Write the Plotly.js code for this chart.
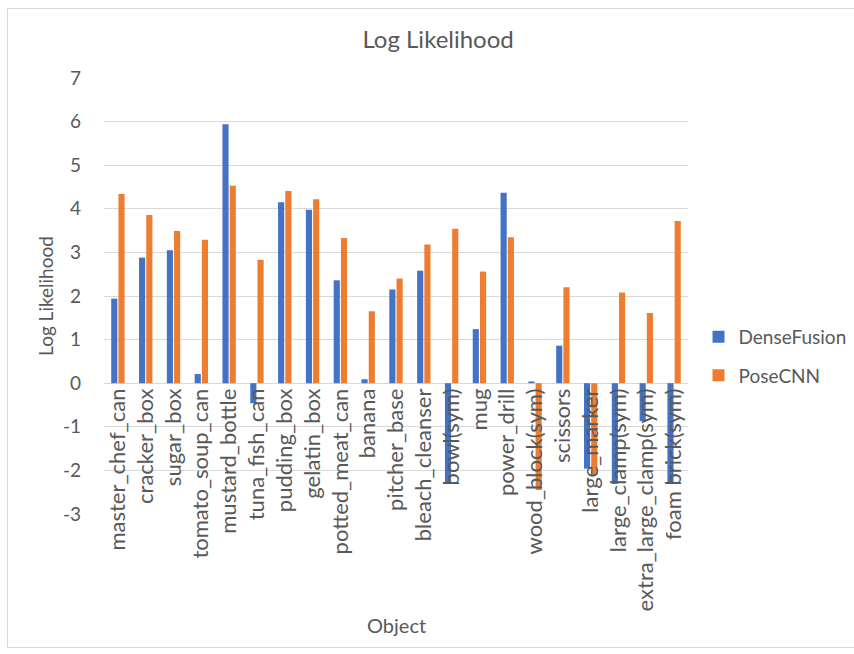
<!DOCTYPE html>
<html>
<head>
<meta charset="utf-8">
<script src="https://cdn.plot.ly/plotly-3.0.1.min.js"></script>
<style>
  html, body { margin: 0; padding: 0; background: #ffffff; }
  #frame { position: absolute; left: 7px; top: 8px; width: 860px; height: 640px; border: 1px solid #d9d9d9; box-sizing: border-box; }
  #chart { position: absolute; left: 0; top: 0; width: 854px; height: 654px; }
</style>
</head>
<body>
<div id="frame"></div>
<div id="chart"></div>
<script>
// Objects evaluated
const objects = [
  "master_chef_can", "cracker_box", "sugar_box", "tomato_soup_can", "mustard_bottle",
  "tuna_fish_can", "pudding_box", "gelatin_box", "potted_meat_can", "banana",
  "pitcher_base", "bleach_cleanser", "bowl(sym)", "mug", "power_drill",
  "wood_block(sym)", "scissors", "large_marker", "large_clamp(sym)",
  "extra_large_clamp(sym)", "foam brick(sym)"
];

// Log likelihood per object
const denseFusion = [1.94, 2.88, 3.05, 0.21, 5.94, -0.46, 4.15, 3.98, 2.36, 0.09,
                     2.15, 2.58, -2.30, 1.24, 4.37, 0.04, 0.86, -1.96, -2.31, -0.87, -2.31];
const poseCNN = [4.34, 3.86, 3.49, 3.29, 4.53, 2.83, 4.41, 4.22, 3.33, 1.65,
                 2.40, 3.18, 3.54, 2.56, 3.35, -2.45, 2.20, -2.10, 2.08, 1.61, 3.72];

const yTicks = [-3, -2, -1, 0, 1, 2, 3, 4, 5, 6, 7];

const FONT = "Lato, 'Open Sans', sans-serif";
const GREY = "#595959";

const traces = [
  { type: "bar", name: "DenseFusion", x: objects, y: denseFusion,
    marker: { color: "#4472C4", line: { width: 0 } }, legendgroup: "a" },
  { type: "bar", name: "PoseCNN", x: objects, y: poseCNN,
    marker: { color: "#ED7D31", line: { width: 0 } }, legendgroup: "b" }
];

const layout = {
  width: 854, height: 654,
  margin: { l: 104, r: 166, t: 78, b: 140, autoexpand: false },
  paper_bgcolor: "rgba(0,0,0,0)",
  plot_bgcolor: "rgba(0,0,0,0)",
  font: { family: FONT, color: GREY, size: 16 },
  barmode: "group",
  bargap: 0.48,
  bargroupgap: 0.15,
  showlegend: true,
  title: { text: "Log Likelihood", x: 0.513, xanchor: "center", y: 0.94, yanchor: "middle",
           font: { family: FONT, size: 24, color: GREY } },
  xaxis: {
    type: "category",
    // category labels sit on the zero line: 0 is 30% up the [-3, 7] range
    anchor: "free",
    position: 0.3,
    tickangle: -90,
    ticks: "",
    showline: false,
    showgrid: false,
    zeroline: false,
    tickfont: { family: FONT, size: 22, color: GREY },
    automargin: false
  },
  yaxis: {
    range: [-3, 7],
    tickvals: yTicks,
    ticktext: yTicks.map(String),
    showgrid: true,
    gridcolor: "#d9d9d9",
    gridwidth: 1,
    zeroline: true,
    zerolinecolor: "#d9d9d9",
    zerolinewidth: 1,
    showline: false,
    ticks: "",
    ticklabelstandoff: 22,
    tickfont: { family: FONT, size: 19, color: GREY },
    title: { text: "Log Likelihood", font: { family: FONT, size: 19, color: GREY }, standoff: 4 },
    automargin: false
  },
  annotations: [
    { text: "Object", xref: "paper", yref: "paper", x: 0.5, y: -0.2546,
      xanchor: "center", yanchor: "middle", showarrow: false,
      font: { family: FONT, size: 20, color: GREY } }
  ],
  legend: {
    x: 1.018, xanchor: "left",
    y: 0.45, yanchor: "top",
    traceorder: "grouped",
    tracegroupgap: 11,
    font: { family: FONT, size: 19, color: GREY },
    itemwidth: 30,
    bgcolor: "rgba(0,0,0,0)"
  }
};

Plotly.newPlot("chart", traces, layout, { displayModeBar: false, staticPlot: true });
</script>
</body>
</html>
